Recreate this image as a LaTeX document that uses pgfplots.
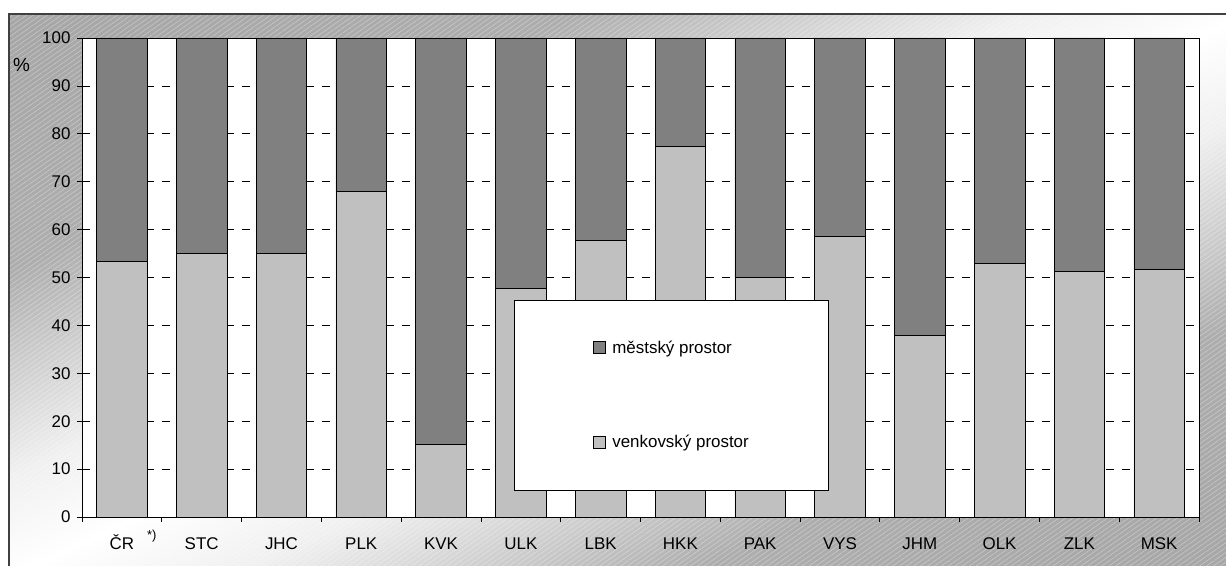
\documentclass[border=0pt]{standalone}
\usepackage{fontspec}
\setmainfont{Liberation Sans}
\usepackage{pgfplots}
\pgfplotsset{compat=1.18}
\usetikzlibrary{patterns.meta}
\definecolor{darkbar}{HTML}{808080}
\definecolor{lightbar}{HTML}{C0C0C0}
\pgfdeclarehorizontalshading{bgshade}{100bp}{color(0bp)=(black!38); color(32bp)=(black!32); color(44bp)=(black!6); color(50bp)=(white); color(56bp)=(black!6); color(68bp)=(black!32); color(100bp)=(black!38)}
\begin{document}
\begin{tikzpicture}[x=1bp,y=1bp]
\path[use as bounding box] (0,0) rectangle (1226,-566);
\begin{scope}
\clip (0,0) rectangle (1226,-566);
\shade[shading=bgshade, shading angle=-65.6] (9,-14) rectangle (1240,-580);
\fill[pattern={Lines[angle=35,distance=4bp,line width=0.6bp]}, pattern color=white, opacity=0.35] (9,-14) rectangle (1240,-580);
\draw[line width=1.6bp, black!75] (9,-580) -- (9,-14) -- (1240,-14);
\end{scope}
\node[font=\fontsize{19}{22}\selectfont] at (21.5,-65) {\%};
\begin{axis}[
  at={(82bp,-517bp)}, anchor=south west,
  scale only axis, width=1117bp, height=479bp,
  xmin=-0.5, xmax=13.5, ymin=0, ymax=100,
  ybar stacked, bar width=50.6bp,
  axis background/.style={fill=white},
  xtick={0,...,13},
  xticklabels={{ČR\rlap{\hspace{13bp}\raisebox{10bp}{\fontsize{13}{15}\selectfont *)}}},STC,JHC,PLK,KVK,ULK,LBK,HKK,PAK,VYS,JHM,OLK,ZLK,MSK},
  major x tick style={draw=none},
  minor xtick={-0.5,0.5,...,13.5},
  ytick={0,10,...,100},
  xtick pos=left, ytick pos=left,
  tick align=outside, major tick length=5bp, minor tick length=5bp,
  tick style={black, line width=0.8bp},
  axis line style={black, line width=0.8bp},
  ymajorgrids,
  grid style={black, line width=0.8bp, dash pattern=on 8bp off 8bp},
  /pgf/number format/assume math mode=true,
  every tick label/.append style={font=\fontsize{17}{20}\selectfont},
  yticklabel style={xshift=-3bp},
  xticklabel style={text height=12bp, text depth=0bp, yshift=-12bp},
  reverse legend,
  legend cell align=left,
  legend image code/.code={\draw[#1, draw=black, line width=0.6bp] (0bp,-6bp) rectangle (12bp,6bp); \path (17bp,0bp);},
  legend style={at={(0.528,0.2547)}, anchor=center, draw=black, line width=0.8bp, fill=white,
    inner xsep=78bp, inner ysep=38.5bp, row sep=77bp, font=\fontsize{17}{20}\selectfont},
]
\addplot[fill=lightbar, draw=black, line width=0.6bp] coordinates {
(0,53.3) (1,55.1) (2,55.1) (3,68.0) (4,15.2) (5,47.8) (6,57.7) (7,77.3) (8,50.1) (9,58.5) (10,37.9) (11,53.0) (12,51.2) (13,51.7)};
\addlegendentry{venkovský prostor}
\addplot[fill=darkbar, draw=black, line width=0.6bp] coordinates {
(0,46.7) (1,44.9) (2,44.9) (3,32.0) (4,84.8) (5,52.2) (6,42.3) (7,22.7) (8,49.9) (9,41.5) (10,62.1) (11,47.0) (12,48.8) (13,48.3)};
\addlegendentry{městský prostor}
\end{axis}
\end{tikzpicture}
\end{document}
